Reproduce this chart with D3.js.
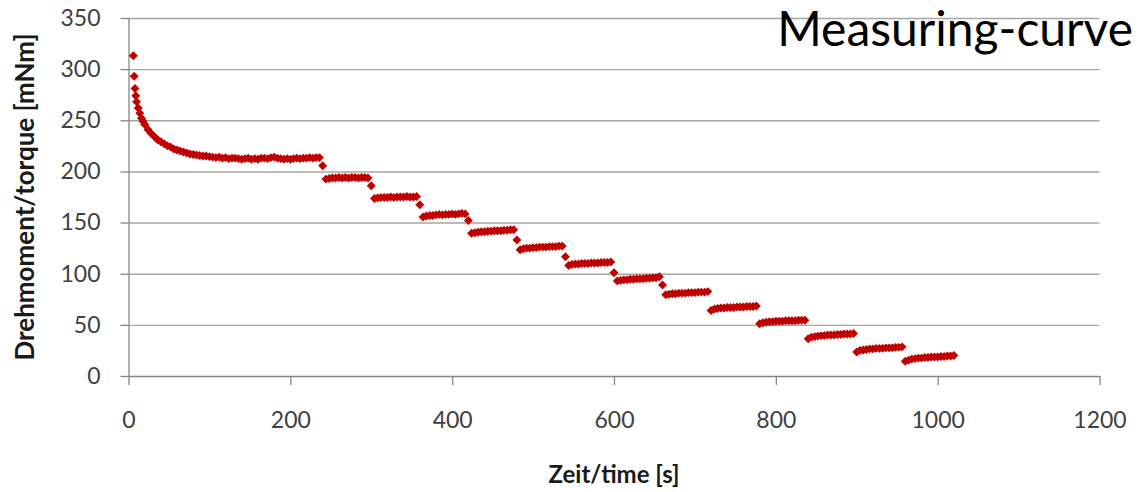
<!DOCTYPE html>
<html>
<head>
<meta charset="utf-8">
<script src="https://cdn.jsdelivr.net/npm/d3@7"></script>
<style>
  html, body { margin: 0; padding: 0; background: #ffffff; }
  svg { display: block; font-family: Lato, "Open Sans", sans-serif; }
  .axis path, .axis line { stroke: #868686; stroke-width: 1.3; }
  .axis text { fill: #404040; font-size: 23px; font-family: Lato, sans-serif; }
  .grid line { stroke: #a6a6a6; stroke-width: 1.4; }
  .label { font-weight: bold; fill: #1a1a1a; }
</style>
</head>
<body>
<svg id="svg" width="1139" height="492"></svg>
<script>
// time stamps [s]
const timeS = [
  6, 7, 8, 9, 10, 12, 14, 16, 18, 20,
  24, 28, 32, 36, 40, 44, 48, 52, 56, 60, 64, 68, 72, 76, 80, 84, 88, 92, 96, 100,
  104, 108, 112, 116, 120, 124, 128, 132, 136, 140, 144, 148, 152, 156, 160, 164, 168,
  172, 176, 180, 184, 188, 192, 196, 200, 204, 208, 212, 216, 220, 224, 228, 232, 236,
  240,
  244, 248, 252, 256, 260, 264, 268, 272, 276, 280, 284, 288, 292, 296,
  300,
  304, 308, 312, 316, 320, 324, 328, 332, 336, 340, 344, 348, 352, 356,
  360,
  364, 368, 372, 376, 380, 384, 388, 392, 396, 400, 404, 408, 412, 416,
  420,
  424, 428, 432, 436, 440, 444, 448, 452, 456, 460, 464, 468, 472, 476,
  480,
  484, 488, 492, 496, 500, 504, 508, 512, 516, 520, 524, 528, 532, 536,
  540,
  544, 548, 552, 556, 560, 564, 568, 572, 576, 580, 584, 588, 592, 596,
  600,
  604, 608, 612, 616, 620, 624, 628, 632, 636, 640, 644, 648, 652, 656,
  660,
  664, 668, 672, 676, 680, 684, 688, 692, 696, 700, 704, 708, 712, 716,
  720, 724, 728, 732, 736, 740, 744, 748, 752, 756, 760, 764, 768, 772, 776,
  780, 784, 788, 792, 796, 800, 804, 808, 812, 816, 820, 824, 828, 832, 836,
  840, 844, 848, 852, 856, 860, 864, 868, 872, 876, 880, 884, 888, 892, 896,
  900, 904, 908, 912, 916, 920, 924, 928, 932, 936, 940, 944, 948, 952, 956,
  960, 964, 968, 972, 976, 980, 984, 988, 992, 996, 1000, 1004, 1008, 1012, 1016, 1020
];

// torque [mNm]
const torqueMNm = [
  313, 293, 281, 274, 268, 262, 257, 252, 249, 246,
  241, 237, 234, 231, 229, 227, 225, 224, 222, 221, 220, 219, 218, 217, 216.5, 216, 215.5, 215, 215, 214.5,
  214, 213.5, 214, 213, 213.5, 212.5, 213, 213, 212.5, 212, 212.5, 213, 212, 212.5, 212, 213, 213,
  212.5, 213.5, 214, 213, 212.5, 212, 212.5, 212, 212.5, 213, 212.5, 213, 213, 213.5, 213, 213.5, 213.5,
  205.5,
  192.5, 193, 193.5, 193.5, 194, 193.5, 194, 193.5, 194, 194, 193.5, 194, 194, 193.5,
  186,
  173.5, 174, 174.5, 174.5, 174.5, 175, 174.5, 175, 175, 175, 175.5, 175, 175, 175.5,
  167.5,
  155.5, 156.5, 157, 157, 157.5, 158, 157.5, 158, 158, 158.5, 158, 158.5, 159, 158.5,
  152,
  139.5, 140, 140.5, 141, 141, 141.5, 141.5, 142, 142, 142, 142.5, 142.5, 143, 143,
  133,
  123.5, 124.5, 125, 125, 125.5, 125.5, 126, 126, 126, 126.5, 126.5, 126.5, 127, 127,
  116.5,
  108, 109, 109.5, 109.5, 110, 110, 110, 110.5, 110.5, 110.5, 111, 111, 111, 111.5,
  101,
  93, 93.5, 94, 94, 94.5, 94.5, 95, 95, 95, 95.5, 95.5, 96, 96, 97,
  89,
  79.5, 80, 80.5, 80.5, 81, 81, 81, 81.5, 81.5, 81.5, 82, 82, 82, 82.5,
  64, 65.5, 66, 66.5, 66.5, 67, 67, 67, 67.5, 67.5, 67.5, 68, 68, 68, 68.5,
  51, 52, 52.5, 53, 53, 53.5, 53.5, 53.5, 54, 54, 54, 54, 54.5, 54.5, 54.5,
  36.5, 38, 38.5, 39, 39.5, 39.5, 40, 40, 40, 40.5, 40.5, 41, 41, 41, 41.5,
  23.5, 25, 25.5, 26, 26.5, 26.5, 27, 27, 27, 27.5, 27.5, 27.5, 28, 28, 28.5,
  14.5, 15.5, 16.5, 17, 17.5, 17.5, 18, 18, 18.5, 18.5, 18.5, 19, 19, 19.5, 19.5, 20
];

const xTicks = [0, 200, 400, 600, 800, 1000, 1200];
const yTicks = [0, 50, 100, 150, 200, 250, 300, 350];

const titleText = 'Measuring-curve';
const xLabel = 'Zeit/time [s]';
const yLabel = 'Drehmoment/torque [mNm]';

var svg = d3.select('svg');

// plot area edges (top/bottom names clash with window.top)
var plotLeft = 128.5, plotRight = 1099.5, plotTop = 18, plotBottom = 376;

var xScale = d3.scaleLinear()
  .domain([0, 1200])
  .range([plotLeft, plotRight]);

var yScale = d3.scaleLinear()
  .domain([0, 350])
  .range([plotBottom, plotTop]);

// horizontal grid lines
svg.append('g')
  .attr('class', 'grid')
  .attr('transform', `translate(${plotLeft}, 0)`)
  .call(d3.axisLeft(yScale)
    .tickValues(yTicks.filter(v => v > 0))
    .tickSize(-(plotRight - plotLeft))
    .tickFormat('')
  )
  .call(g => g.select('.domain').remove());

// axes
svg.append('g')
  .attr('class', 'axis')
  .attr('transform', `translate(${plotLeft}, 0)`)
  .call(d3.axisLeft(yScale)
    .tickValues(yTicks)
    .tickSize(8)
    .tickSizeOuter(0)
    .tickPadding(20)
    .tickFormat(d3.format('d'))
  );

var xAxis = svg.append('g')
  .attr('class', 'axis')
  .attr('transform', `translate(0, ${plotBottom})`)
  .call(d3.axisBottom(xScale)
    .tickValues(xTicks)
    .tickSize(9)
    .tickSizeOuter(0)
    .tickFormat(d3.format('d'))
  );
xAxis.selectAll('text')
  .attr('y', 52)
  .attr('dy', 0);

// measuring points
var marker = d3.symbol().type(d3.symbolSquare).size(40);
var points = timeS.map((t, i) => ({ t: t, v: torqueMNm[i] }));

svg.append('g')
  .selectAll('path')
  .data(points)
  .enter()
  .append('path')
  .attr('d', marker)
  .attr('fill', '#c00000')
  .attr('transform', d => `translate(${xScale(d.t)}, ${yScale(d.v)}) rotate(45)`);

// labels
svg.append('text')
  .attr('class', 'label')
  .attr('transform', `translate(34, ${(plotTop + plotBottom) / 2}) rotate(-90)`)
  .attr('text-anchor', 'middle')
  .style('font-size', '26px')
  .text(yLabel);

svg.append('text')
  .attr('class', 'label')
  .attr('x', (plotLeft + plotRight) / 2)
  .attr('y', 483)
  .attr('text-anchor', 'middle')
  .style('font-size', '24px')
  .text(xLabel);

svg.append('text')
  .attr('x', 1133)
  .attr('y', 46)
  .attr('text-anchor', 'end')
  .style('font-size', '48px')
  .style('fill', '#000')
  .text(titleText);
</script>
</body>
</html>
